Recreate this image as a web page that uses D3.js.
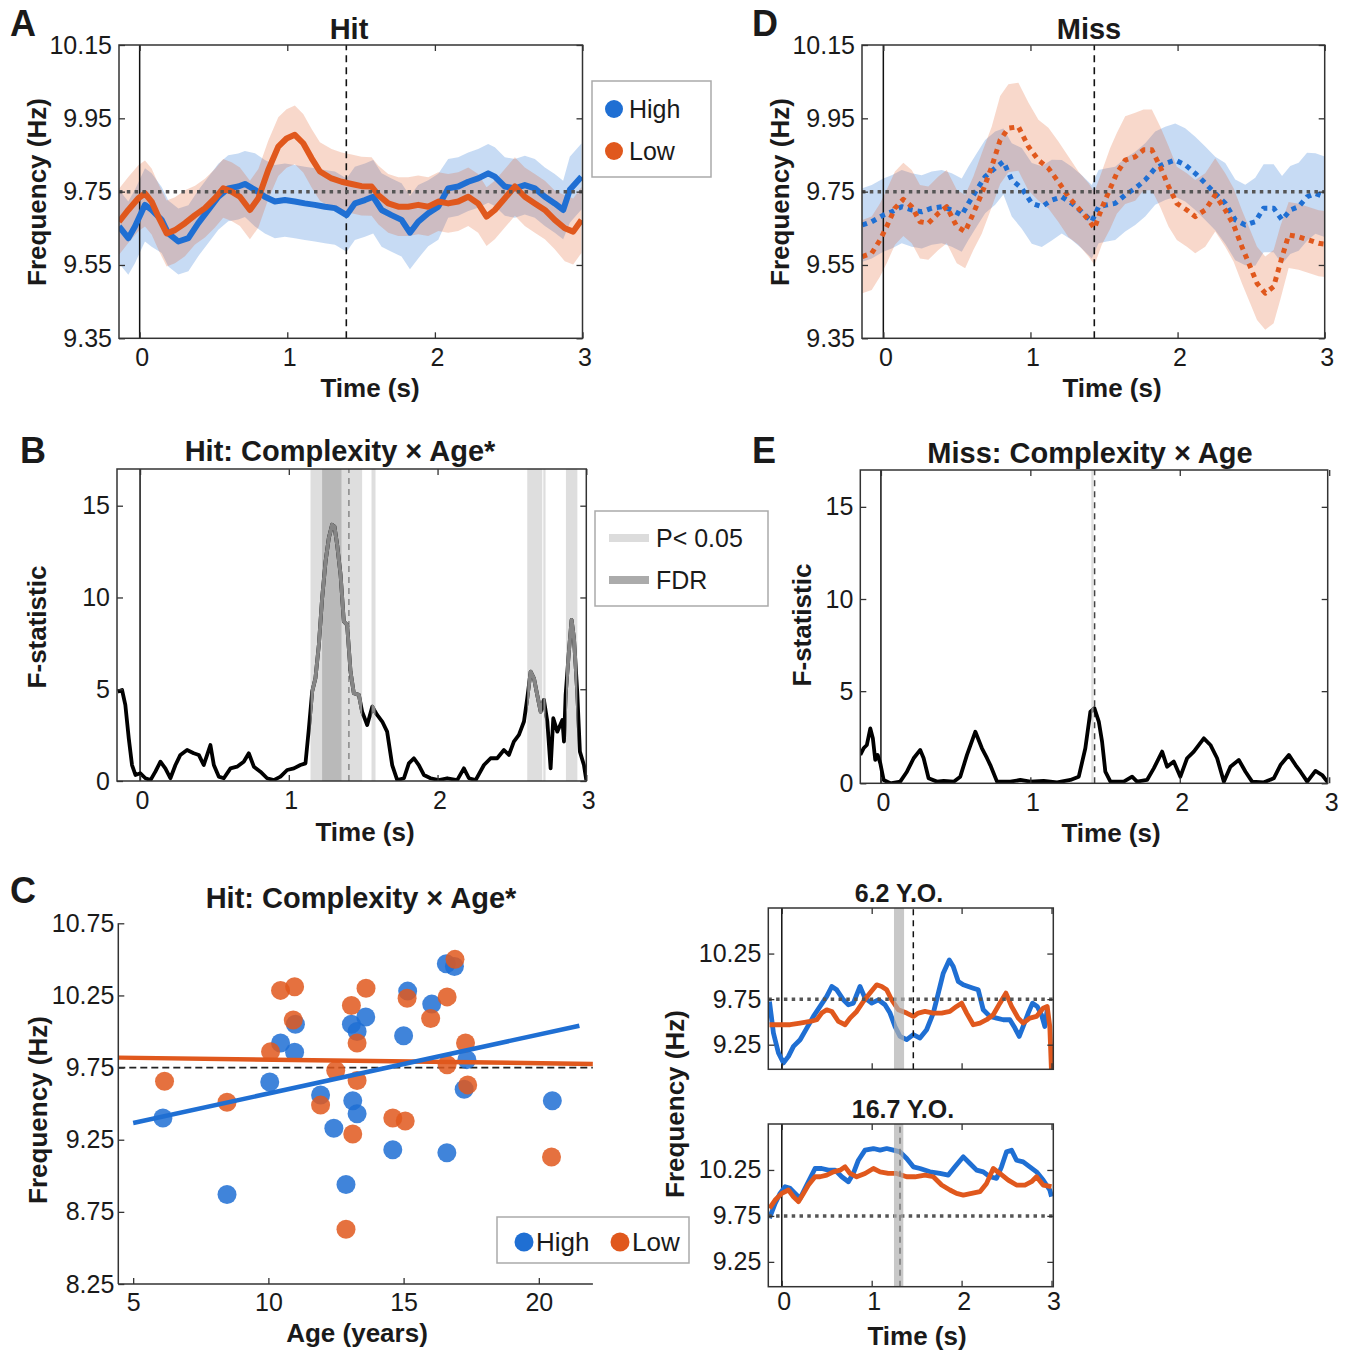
<!DOCTYPE html>
<html><head><meta charset="utf-8">
<script src="https://cdn.jsdelivr.net/npm/d3@7"></script>
<style>
body{margin:0;background:#fff;}
svg{display:block;}
text{font-family:"Liberation Sans",Arial,Helvetica,sans-serif;fill:#1a1a1a;}
</style></head><body>
<svg id="fig" width="1351" height="1351"></svg>
<script>
// ---------------- DATA ----------------
// Panel A (Hit): [time s, frequency Hz, sem]
const hitHigh = [[-0.14,9.655,0.10],[-0.077,9.623,0.10],[-0.032,9.655,0.10],[0.036,9.714,0.10],[0.081,9.700,0.10],[0.149,9.673,0.09],[0.194,9.636,0.09],[0.262,9.614,0.09],[0.330,9.623,0.09],[0.397,9.664,0.09],[0.465,9.700,0.09],[0.533,9.736,0.09],[0.600,9.759,0.09],[0.668,9.764,0.09],[0.713,9.771,0.09],[0.781,9.755,0.10],[0.848,9.736,0.10],[0.916,9.723,0.10],[0.984,9.727,0.10],[1.051,9.723,0.10],[1.119,9.718,0.10],[1.187,9.714,0.10],[1.255,9.709,0.10],[1.323,9.705,0.10],[1.402,9.686,0.10],[1.458,9.718,0.10],[1.526,9.727,0.10],[1.582,9.736,0.10],[1.639,9.700,0.10],[1.706,9.686,0.10],[1.774,9.673,0.10],[1.831,9.638,0.10],[1.887,9.668,0.10],[1.955,9.691,0.09],[2.023,9.709,0.09],[2.090,9.759,0.08],[2.158,9.764,0.08],[2.226,9.777,0.08],[2.293,9.786,0.08],[2.361,9.800,0.08],[2.406,9.791,0.08],[2.474,9.764,0.08],[2.542,9.759,0.08],[2.609,9.768,0.08],[2.677,9.759,0.08],[2.745,9.736,0.08],[2.812,9.718,0.08],[2.869,9.700,0.08],[2.914,9.755,0.09],[2.993,9.791,0.09]];
const hitLow = [[-0.14,9.668,0.09],[-0.077,9.700,0.09],[-0.009,9.732,0.09],[0.036,9.745,0.09],[0.081,9.723,0.09],[0.126,9.682,0.09],[0.183,9.636,0.09],[0.239,9.645,0.09],[0.307,9.664,0.09],[0.375,9.686,0.08],[0.442,9.705,0.08],[0.510,9.732,0.08],[0.566,9.759,0.08],[0.623,9.750,0.08],[0.679,9.736,0.08],[0.747,9.700,0.08],[0.804,9.732,0.08],[0.871,9.809,0.08],[0.939,9.873,0.08],[0.995,9.895,0.08],[1.051,9.905,0.08],[1.108,9.882,0.08],[1.165,9.841,0.08],[1.221,9.805,0.08],[1.300,9.786,0.08],[1.368,9.777,0.08],[1.436,9.771,0.08],[1.503,9.765,0.08],[1.571,9.764,0.08],[1.616,9.741,0.08],[1.684,9.718,0.08],[1.752,9.709,0.08],[1.819,9.709,0.08],[1.887,9.714,0.08],[1.955,9.709,0.08],[2.023,9.723,0.08],[2.090,9.718,0.08],[2.158,9.723,0.08],[2.226,9.736,0.08],[2.293,9.718,0.08],[2.350,9.682,0.08],[2.406,9.700,0.08],[2.474,9.732,0.08],[2.542,9.764,0.08],[2.609,9.736,0.08],[2.677,9.718,0.08],[2.745,9.700,0.08],[2.812,9.673,0.08],[2.880,9.650,0.09],[2.937,9.641,0.09],[2.993,9.673,0.09]];
// Panel D (Miss)
const missHigh = [[-0.143,9.659,0.10],[-0.079,9.668,0.10],[0.000,9.686,0.10],[0.057,9.695,0.10],[0.125,9.709,0.10],[0.193,9.700,0.10],[0.261,9.695,0.10],[0.329,9.705,0.10],[0.397,9.709,0.10],[0.465,9.700,0.10],[0.533,9.686,0.10],[0.578,9.718,0.10],[0.635,9.755,0.10],[0.692,9.791,0.10],[0.760,9.814,0.10],[0.816,9.832,0.09],[0.873,9.782,0.10],[0.941,9.759,0.11],[1.009,9.718,0.11],[1.077,9.709,0.11],[1.145,9.727,0.11],[1.213,9.736,0.10],[1.281,9.718,0.10],[1.349,9.695,0.10],[1.417,9.668,0.10],[1.463,9.709,0.10],[1.519,9.714,0.10],[1.576,9.718,0.10],[1.644,9.741,0.10],[1.712,9.759,0.10],[1.780,9.782,0.10],[1.848,9.814,0.10],[1.916,9.827,0.10],[1.984,9.836,0.10],[2.052,9.823,0.10],[2.120,9.800,0.10],[2.188,9.773,0.10],[2.256,9.745,0.10],[2.324,9.718,0.11],[2.392,9.673,0.11],[2.460,9.659,0.11],[2.528,9.668,0.12],[2.585,9.705,0.12],[2.653,9.705,0.12],[2.710,9.673,0.12],[2.766,9.700,0.12],[2.823,9.709,0.12],[2.880,9.736,0.12],[2.937,9.745,0.11],[3.000,9.736,0.11]];
const missLow = [[-0.143,9.573,0.10],[-0.079,9.582,0.10],[-0.023,9.618,0.10],[0.023,9.655,0.10],[0.079,9.705,0.10],[0.136,9.729,0.10],[0.193,9.709,0.10],[0.249,9.668,0.10],[0.306,9.664,0.10],[0.374,9.691,0.10],[0.431,9.709,0.10],[0.499,9.655,0.10],[0.556,9.641,0.10],[0.612,9.691,0.10],[0.669,9.745,0.11],[0.737,9.818,0.11],[0.794,9.891,0.12],[0.850,9.923,0.12],[0.918,9.927,0.12],[0.986,9.873,0.12],[1.054,9.836,0.11],[1.122,9.814,0.11],[1.190,9.777,0.11],[1.258,9.736,0.11],[1.326,9.705,0.10],[1.395,9.673,0.10],[1.435,9.650,0.10],[1.485,9.705,0.10],[1.542,9.759,0.11],[1.587,9.800,0.11],[1.644,9.836,0.12],[1.712,9.845,0.12],[1.769,9.864,0.11],[1.825,9.864,0.11],[1.882,9.818,0.11],[1.939,9.764,0.11],[1.995,9.718,0.10],[2.063,9.700,0.10],[2.120,9.682,0.10],[2.188,9.700,0.10],[2.256,9.741,0.10],[2.324,9.700,0.10],[2.381,9.659,0.10],[2.437,9.600,0.10],[2.494,9.545,0.10],[2.540,9.500,0.10],[2.596,9.473,0.10],[2.653,9.491,0.10],[2.698,9.555,0.10],[2.755,9.632,0.09],[2.823,9.627,0.09],[2.891,9.618,0.09],[2.959,9.609,0.09],[3.000,9.607,0.09]];
// Panel B (Hit F-statistic): [time, F]
const hitF = [[-0.150,4.87],[-0.121,4.96],[-0.099,4.15],[-0.076,2.33],[-0.054,0.87],[-0.031,0.33],[0.002,0.42],[0.036,0.15],[0.070,0.05],[0.103,0.51],[0.137,1.05],[0.170,0.69],[0.204,0.15],[0.238,0.87],[0.271,1.42],[0.316,1.69],[0.361,1.51],[0.395,1.42],[0.428,0.87],[0.451,1.42],[0.473,1.96],[0.496,0.87],[0.529,0.24],[0.563,0.15],[0.608,0.69],[0.652,0.78],[0.697,1.05],[0.731,1.51],[0.765,0.78],[0.809,0.51],[0.854,0.15],[0.899,0.05],[0.944,0.24],[0.989,0.60],[1.034,0.69],[1.078,0.87],[1.112,0.96],[1.135,2.87],[1.157,4.87],[1.179,5.60],[1.202,7.42],[1.224,9.96],[1.247,11.96],[1.269,13.24],[1.291,13.96],[1.307,13.87],[1.325,12.87],[1.348,11.24],[1.370,8.69],[1.392,8.51],[1.415,5.96],[1.437,4.78],[1.471,4.69],[1.493,3.78],[1.527,3.05],[1.561,4.05],[1.594,3.60],[1.628,3.24],[1.661,2.69],[1.695,0.87],[1.729,0.05],[1.774,0.15],[1.807,0.96],[1.841,1.24],[1.874,0.87],[1.908,0.33],[1.953,0.15],[2.009,0.05],[2.065,0.15],[2.132,0.05],[2.177,0.69],[2.211,0.15],[2.256,0.05],[2.312,0.87],[2.357,1.24],[2.401,1.24],[2.446,1.69],[2.480,1.42],[2.513,2.15],[2.547,2.51],[2.581,3.24],[2.603,4.51],[2.626,5.96],[2.648,5.60],[2.670,4.69],[2.693,3.78],[2.715,4.42],[2.738,3.24],[2.760,0.69],[2.778,3.42],[2.805,2.69],[2.839,3.33],[2.850,2.15],[2.861,4.69],[2.883,7.05],[2.901,8.78],[2.917,7.78],[2.939,4.87],[2.957,1.60],[2.984,0.87],[3.000,0.05]];
const hitSigP = [[1.146,1.493],[1.556,1.583],[2.603,2.704],[2.711,2.726],[2.863,2.940]];
const hitSigFDR = [[1.224,1.354]];
// Panel E (Miss F-statistic)
const missF = [[-0.138,1.54],[-0.116,1.90],[-0.094,2.08],[-0.071,2.98],[-0.054,2.44],[-0.038,1.27],[-0.022,1.54],[-0.004,1.08],[0.018,0.18],[0.063,0.00],[0.129,0.09],[0.174,0.63],[0.219,1.36],[0.263,1.81],[0.286,1.36],[0.319,0.27],[0.375,0.09],[0.420,0.13],[0.487,0.09],[0.531,0.36],[0.576,1.54],[0.632,2.80],[0.676,1.90],[0.710,1.36],[0.732,0.99],[0.777,0.09],[0.866,0.09],[0.933,0.18],[1.000,0.09],[1.089,0.13],[1.179,0.05],[1.268,0.18],[1.324,0.36],[1.368,1.90],[1.402,3.89],[1.429,4.07],[1.458,3.35],[1.480,2.26],[1.502,0.63],[1.536,0.09],[1.625,0.09],[1.681,0.36],[1.714,0.09],[1.781,0.18],[1.826,0.81],[1.882,1.72],[1.915,0.90],[1.960,1.18],[2.004,0.36],[2.049,1.36],[2.094,1.72],[2.161,2.44],[2.205,2.08],[2.250,1.36],[2.295,0.09],[2.339,0.90],[2.395,1.27],[2.440,0.63],[2.484,0.09],[2.563,0.05],[2.629,0.27],[2.674,0.99],[2.730,1.54],[2.775,0.99],[2.808,0.63],[2.853,0.09],[2.908,0.67],[2.953,0.45],[2.991,0.05]];
const missSigP = [[1.408,1.423]];
// Panel C scatter: [age years, frequency Hz]
const scatHigh = [[6.10,9.40],[8.47,8.87],[10.05,9.65],[10.45,9.92],[10.97,9.856],[11.00,10.05],[11.93,9.56],[12.42,9.33],[12.87,8.94],[13.07,10.05],[13.12,9.52],[13.28,9.43],[13.28,10.00],[13.60,10.10],[14.60,9.18],[15.00,9.97],[15.15,10.28],[16.04,10.19],[16.60,9.16],[16.58,10.47],[16.88,10.45],[17.34,9.805],[17.24,9.60],[20.50,9.52]];
const scatLow = [[6.16,9.655],[8.47,9.51],[10.08,9.86],[10.45,10.285],[10.97,10.31],[10.92,10.08],[11.93,9.49],[12.49,9.73],[12.87,8.63],[13.07,10.18],[13.12,9.29],[13.28,9.92],[13.28,9.66],[13.61,10.30],[14.60,9.40],[15.06,9.38],[15.13,10.23],[16.00,10.09],[16.61,10.24],[16.61,9.77],[16.90,10.50],[17.29,9.92],[17.37,9.63],[20.47,9.13]];
const fitHigh = [[5.0,9.366],[21.5,10.040]];
const fitLow = [[4.45,9.819],[22.0,9.775]];
// Panel C insets: [time, frequency]
const y6High = [[-0.137,9.724],[-0.093,9.378],[-0.037,9.159],[0.019,9.050],[0.074,9.122],[0.130,9.232],[0.204,9.305],[0.278,9.432],[0.352,9.560],[0.426,9.670],[0.500,9.780],[0.556,9.889],[0.611,9.852],[0.685,9.743],[0.741,9.688],[0.796,9.706],[0.870,9.889],[0.926,9.761],[1.000,9.706],[1.074,9.743],[1.148,9.688],[1.204,9.597],[1.259,9.450],[1.315,9.341],[1.389,9.305],[1.463,9.360],[1.537,9.323],[1.611,9.414],[1.685,9.597],[1.741,9.816],[1.796,10.035],[1.863,10.180],[1.907,10.108],[1.963,9.943],[2.019,9.907],[2.074,9.889],[2.130,9.870],[2.185,9.852],[2.241,9.633],[2.315,9.560],[2.389,9.542],[2.463,9.524],[2.537,9.524],[2.593,9.432],[2.641,9.341],[2.685,9.450],[2.741,9.597],[2.789,9.706],[2.841,9.670],[2.889,9.578],[2.926,9.450],[2.952,9.633]];
const y6Low = [[-0.137,9.469],[-0.019,9.469],[0.093,9.469],[0.204,9.487],[0.315,9.505],[0.389,9.524],[0.444,9.597],[0.500,9.633],[0.556,9.615],[0.630,9.505],[0.704,9.469],[0.759,9.542],[0.833,9.615],[0.907,9.724],[0.981,9.816],[1.056,9.907],[1.111,9.889],[1.167,9.852],[1.222,9.743],[1.296,9.633],[1.389,9.597],[1.463,9.560],[1.519,9.597],[1.593,9.615],[1.685,9.597],[1.778,9.597],[1.870,9.615],[1.944,9.670],[2.000,9.706],[2.056,9.597],[2.130,9.469],[2.204,9.487],[2.278,9.524],[2.352,9.578],[2.426,9.706],[2.493,9.816],[2.556,9.670],[2.630,9.542],[2.685,9.487],[2.759,9.542],[2.833,9.560],[2.907,9.651],[2.952,9.670],[2.981,9.450],[3.000,8.950]];
const y17High = [[-0.137,9.725],[-0.074,9.887],[-0.019,9.995],[0.037,10.068],[0.093,10.050],[0.148,9.995],[0.204,9.941],[0.259,10.050],[0.315,10.158],[0.370,10.266],[0.444,10.266],[0.519,10.248],[0.593,10.248],[0.667,10.176],[0.741,10.122],[0.796,10.212],[0.852,10.356],[0.926,10.465],[1.019,10.483],[1.093,10.465],[1.167,10.483],[1.241,10.465],[1.315,10.447],[1.389,10.375],[1.463,10.284],[1.537,10.266],[1.648,10.230],[1.759,10.212],[1.852,10.194],[1.926,10.284],[2.019,10.393],[2.093,10.320],[2.167,10.248],[2.241,10.230],[2.315,10.176],[2.389,10.158],[2.444,10.284],[2.500,10.447],[2.556,10.465],[2.611,10.356],[2.685,10.338],[2.759,10.284],[2.833,10.230],[2.907,10.140],[2.981,10.032],[3.000,9.959]];
const y17Low = [[-0.137,9.833],[-0.074,9.923],[0.000,9.995],[0.074,10.032],[0.130,9.959],[0.185,9.905],[0.241,9.995],[0.296,10.086],[0.370,10.176],[0.426,10.176],[0.500,10.194],[0.574,10.230],[0.648,10.248],[0.704,10.284],[0.759,10.212],[0.833,10.176],[0.926,10.212],[1.019,10.266],[1.093,10.230],[1.185,10.212],[1.278,10.212],[1.389,10.176],[1.481,10.176],[1.593,10.194],[1.685,10.176],[1.778,10.086],[1.870,10.032],[1.944,9.995],[2.019,9.977],[2.111,9.995],[2.204,10.014],[2.278,10.104],[2.352,10.266],[2.426,10.212],[2.519,10.140],[2.611,10.086],[2.704,10.086],[2.778,10.122],[2.833,10.176],[2.907,10.086],[3.000,10.068]];
const insetSig6 = [1.248,1.360];
const insetSig17 = [1.248,1.352];
// Ticks and labels
const timeTicks = [0,1,2,3];
const freqTicksAD = [9.35,9.55,9.75,9.95,10.15];
const fTicks = [0,5,10,15];
const ageTicks = [5,10,15,20];
const freqTicksC = [8.25,8.75,9.25,9.75,10.25,10.75];
const freqTicksInset = [9.25,9.75,10.25];
const baseline = 9.75;
const legendGroups = ["High","Low"];
const legendSig = ["P< 0.05","FDR"];

// ---------------- DRAWING ----------------
const BLUE = "#1f6fd3", ORANGE = "#e0581d";
const TICKFS = 25;
const svg = d3.select("#fig");
let clipN = 0;

function makePanel(xd, xr, yd, yr) {
  const x = d3.scaleLinear().domain(xd).range(xr);
  const y = d3.scaleLinear().domain(yd).range(yr);
  const id = "clip" + (clipN++);
  svg.append("clipPath").attr("id", id).append("rect")
    .attr("x", xr[0]).attr("y", yr[1]).attr("width", xr[1]-xr[0]).attr("height", yr[0]-yr[1]);
  const g = svg.append("g");
  const plot = g.append("g").attr("clip-path", `url(#${id})`);
  return {x, y, g, plot};
}
function styleAxis(sel, fs) {
  sel.select(".domain").remove();
  sel.selectAll(".tick line").attr("stroke", "#333").attr("stroke-width", 1.3);
  sel.selectAll(".tick text").attr("font-size", fs).attr("fill", "#1a1a1a")
    .style("font-family", '"Liberation Sans",Arial,sans-serif');
}
function boxAxes(p, xticks, yticks, yfmt, showX, fs, xpad) {
  const {x, y, g} = p;
  const [x0, x1] = x.range(), [y0, y1] = y.range();
  g.append("g").attr("transform", `translate(0,${y0})`)
    .call(d3.axisBottom(x).tickValues(xticks).tickSize(-6).tickPadding(xpad || 10)
      .tickFormat(showX ? d3.format("d") : () => ""))
    .call(s => styleAxis(s, fs)).selectAll(".tick text").attr("dx", 2);
  g.append("g").attr("transform", `translate(0,${y1})`)
    .call(d3.axisTop(x).tickValues(xticks).tickSize(-6).tickFormat(() => ""))
    .call(s => styleAxis(s, fs));
  g.append("g").attr("transform", `translate(${x0},0)`)
    .call(d3.axisLeft(y).tickValues(yticks).tickSize(-6).tickPadding(7).tickFormat(yfmt))
    .call(s => styleAxis(s, fs));
  g.append("g").attr("transform", `translate(${x1},0)`)
    .call(d3.axisRight(y).tickValues(yticks).tickSize(-6).tickFormat(() => ""))
    .call(s => styleAxis(s, fs));
  g.append("rect").attr("x", x0).attr("y", y1).attr("width", x1-x0).attr("height", y0-y1)
    .attr("fill", "none").attr("stroke", "#333").attr("stroke-width", 1.5);
}
function text(x, y, s, o = {}) {
  const t = svg.append("text").attr("x", x).attr("y", y).text(s)
    .attr("font-size", o.fs || 24).attr("font-weight", o.bold ? "bold" : "normal")
    .attr("text-anchor", o.anchor || "start");
  if (o.rot) t.attr("transform", `rotate(${o.rot},${x},${y})`);
  return t;
}
function vline(p, t, o) {
  const [y0, y1] = p.y.range();
  p.plot.append("line").attr("x1", p.x(t)).attr("x2", p.x(t)).attr("y1", y0).attr("y2", y1)
    .attr("stroke", o.color || "#111").attr("stroke-width", o.w || 1.5)
    .attr("stroke-dasharray", o.dash || null);
}
function hline(p, v, o) {
  const [x0, x1] = p.x.range();
  p.plot.append("line").attr("x1", x0).attr("x2", x1).attr("y1", p.y(v)).attr("y2", p.y(v))
    .attr("stroke", o.color || "#555").attr("stroke-width", o.w || 3.5)
    .attr("stroke-dasharray", o.dash || null);
}

// ---- time-course panels A and D ----
function timeCourse(p, high, low, dashed, dashT) {
  const band = d3.area().x(d => p.x(d[0])).y0(d => p.y(d[1]-d[2])).y1(d => p.y(d[1]+d[2]));
  const line = d3.line().x(d => p.x(d[0])).y(d => p.y(d[1]));
  p.plot.append("path").datum(high).attr("d", band).attr("fill", BLUE).attr("fill-opacity", 0.25);
  p.plot.append("path").datum(low).attr("d", band).attr("fill", ORANGE).attr("fill-opacity", 0.23);
  vline(p, 0, {w: 1.5});
  vline(p, dashT, {w: 1.6, dash: "7,5"});
  [[high, BLUE], [low, ORANGE]].forEach(([d, c]) => {
    p.plot.append("path").datum(d).attr("d", line).attr("fill", "none").attr("stroke", c)
      .attr("stroke-width", dashed ? 5 : 6).attr("stroke-linejoin", "round")
      .attr("stroke-dasharray", dashed ? "5,5" : null);
  });
  hline(p, baseline, {dash: "3.5,4.3"});
  boxAxes(p, timeTicks, freqTicksAD, d3.format(".2f"), true, TICKFS);
}
const pA = makePanel([-0.14, 3], [119, 582.5], [9.35, 10.15], [338.3, 45]);
timeCourse(pA, hitHigh, hitLow, false, 1.40);
const pD = makePanel([-0.145, 3], [862, 1324.7], [9.35, 10.15], [338.3, 45]);
timeCourse(pD, missHigh, missLow, true, 1.434);

// Legend A
svg.append("rect").attr("x", 592).attr("y", 81).attr("width", 119).attr("height", 96)
  .attr("fill", "#fff").attr("stroke", "#aaa").attr("stroke-width", 1.5);
legendGroups.forEach((k, i) => {
  svg.append("circle").attr("cx", 614).attr("cy", 109 + i*42).attr("r", 9).attr("fill", i ? ORANGE : BLUE);
  text(629, 118 + i*42, k, {fs: 25});
});

// ---- F-statistic panels B and E ----
function fPanel(p, F, sigP, sigFDR, dashT, dashColor) {
  const [y0, y1] = p.y.range();
  sigP.forEach(s => p.plot.append("rect").attr("x", p.x(s[0])).attr("width", p.x(s[1])-p.x(s[0]))
    .attr("y", y1).attr("height", y0-y1).attr("fill", "#dedede"));
  sigFDR.forEach(s => p.plot.append("rect").attr("x", p.x(s[0])).attr("width", p.x(s[1])-p.x(s[0]))
    .attr("y", y1).attr("height", y0-y1).attr("fill", "#b9b9b9"));
  vline(p, 0, {w: 1.5});
  vline(p, dashT, {w: 1.5, dash: "6,5", color: dashColor});
  const line = d3.line().x(d => p.x(d[0])).y(d => p.y(d[1]));
  p.plot.append("path").datum(F).attr("d", line).attr("fill", "none").attr("stroke", "#000")
    .attr("stroke-width", 3.8).attr("stroke-linejoin", "round");
  if (sigP.length) {
    const id = "sig" + (clipN++);
    const cp = svg.append("clipPath").attr("id", id);
    sigP.forEach(s => cp.append("rect").attr("x", p.x(s[0])).attr("width", p.x(s[1])-p.x(s[0]))
      .attr("y", y1).attr("height", y0-y1));
    p.plot.append("g").attr("clip-path", `url(#${id})`).append("path").datum(F).attr("d", line)
      .attr("fill", "none").attr("stroke", "#858585").attr("stroke-width", 3.8).attr("stroke-linejoin", "round");
  }
  boxAxes(p, timeTicks, fTicks, d3.format("d"), true, TICKFS);
}
const pB = makePanel([-0.155, 3], [117, 586.3], [0, 17], [781, 469]);
fPanel(pB, hitF, hitSigP, hitSigFDR, 1.404, "#888");
const pE = makePanel([-0.138, 2.99], [860.3, 1327.7], [0, 17], [783.3, 470]);
fPanel(pE, missF, missSigP, [], 1.43, "#444");

// Legend B
svg.append("rect").attr("x", 595).attr("y", 511).attr("width", 173).attr("height", 95)
  .attr("fill", "#fff").attr("stroke", "#aaa").attr("stroke-width", 1.5);
legendSig.forEach((k, i) => {
  svg.append("line").attr("x1", 609).attr("x2", 649).attr("y1", 538 + i*42).attr("y2", 538 + i*42)
    .attr("stroke", i ? "#ababab" : "#dcdcdc").attr("stroke-width", 8);
  text(656, 547 + i*42, k, {fs: 25});
});

// ---- Scatter panel C ----
const pC = makePanel([4.45, 22], [118.3, 592.9], [8.25, 10.75], [1284, 923.3]);
{
  const {x, y, g, plot} = pC;
  plot.append("line").attr("x1", 118.3).attr("x2", 592.9).attr("y1", y(baseline)).attr("y2", y(baseline))
    .attr("stroke", "#222").attr("stroke-width", 1.8).attr("stroke-dasharray", "7,4");
  [[scatHigh, BLUE], [scatLow, ORANGE]].forEach(([d, c]) => {
    plot.selectAll(null).data(d).enter().append("circle")
      .attr("cx", v => x(v[0])).attr("cy", v => y(v[1])).attr("r", 9.5)
      .attr("fill", c).attr("fill-opacity", 0.85);
  });
  const line = d3.line().x(d => x(d[0])).y(d => y(d[1]));
  plot.append("path").datum(fitLow).attr("d", line).attr("stroke", ORANGE).attr("stroke-width", 4.5);
  plot.append("path").datum(fitHigh).attr("d", line).attr("stroke", BLUE).attr("stroke-width", 4.5);
  g.append("g").attr("transform", "translate(0,1284)")
    .call(d3.axisBottom(x).tickValues(ageTicks).tickSize(-6).tickPadding(9))
    .call(s => styleAxis(s, TICKFS));
  g.append("g").attr("transform", "translate(118.3,0)")
    .call(d3.axisLeft(y).tickValues(freqTicksC).tickSize(-6).tickPadding(4).tickFormat(d3.format(".2f")))
    .call(s => styleAxis(s, TICKFS));
  g.append("line").attr("x1", 118.3).attr("x2", 592.9).attr("y1", 1284).attr("y2", 1284).attr("stroke", "#333").attr("stroke-width", 1.5);
  g.append("line").attr("x1", 118.3).attr("x2", 118.3).attr("y1", 923.3).attr("y2", 1284).attr("stroke", "#333").attr("stroke-width", 1.5);
}
// Legend C
svg.append("rect").attr("x", 497).attr("y", 1217).attr("width", 192).attr("height", 46)
  .attr("fill", "#fff").attr("stroke", "#aaa").attr("stroke-width", 1.5);
legendGroups.forEach((k, i) => {
  svg.append("circle").attr("cx", 524 + i*96).attr("cy", 1242).attr("r", 9.5).attr("fill", i ? ORANGE : BLUE);
  text(536 + i*96, 1251, k, {fs: 26});
});

// ---- Insets ----
function inset(yr, high, low, sig, dashT, dashColor, showX) {
  const p = makePanel([-0.15, 3.02], [768.3, 1053.3], [8.98, 10.75], yr);
  const line = d3.line().x(d => p.x(d[0])).y(d => p.y(d[1]));
  vline(p, 0, {w: 1.5});
  [[high, BLUE], [low, ORANGE]].forEach(([d, c]) => {
    p.plot.append("path").datum(d).attr("d", line).attr("fill", "none").attr("stroke", c)
      .attr("stroke-width", 4.8).attr("stroke-linejoin", "round");
  });
  hline(p, baseline, {dash: "3.5,4.3", w: 3.5});
  const [y0, y1] = p.y.range();
  p.plot.append("rect").attr("x", p.x(sig[0])).attr("width", p.x(sig[1])-p.x(sig[0]))
    .attr("y", y1).attr("height", y0-y1).attr("fill", "#b0b0b0").attr("fill-opacity", 0.7);
  vline(p, dashT, {w: 1.5, dash: "6,5", color: dashColor});
  boxAxes(p, timeTicks, freqTicksInset, d3.format(".2f"), showX, 25, 6);
  return p;
}
inset([1069.3, 908], y6High, y6Low, insetSig6, 1.463, "#111", false);
inset([1286.7, 1124], y17High, y17Low, insetSig17, 1.315, "#777", true);

// ---- Texts ----
text(10, 36, "A", {fs: 36, bold: true});
text(752, 36, "D", {fs: 36, bold: true});
text(20, 463, "B", {fs: 36, bold: true});
text(752, 463, "E", {fs: 36, bold: true});
text(10, 903, "C", {fs: 36, bold: true});
text(349, 39, "Hit", {fs: 29, bold: true, anchor: "middle"});
text(1089, 39, "Miss", {fs: 29, bold: true, anchor: "middle"});
text(340, 461, "Hit: Complexity \u00D7 Age*", {fs: 29, bold: true, anchor: "middle"});
text(1090, 463, "Miss: Complexity \u00D7 Age", {fs: 29, bold: true, anchor: "middle"});
text(361, 908, "Hit: Complexity \u00D7 Age*", {fs: 29, bold: true, anchor: "middle"});
text(899, 902, "6.2 Y.O.", {fs: 25, bold: true, anchor: "middle"});
text(903, 1118, "16.7 Y.O.", {fs: 25, bold: true, anchor: "middle"});
text(370, 397, "Time (s)", {fs: 26, bold: true, anchor: "middle"});
text(1112, 397, "Time (s)", {fs: 26, bold: true, anchor: "middle"});
text(365, 841, "Time (s)", {fs: 26, bold: true, anchor: "middle"});
text(1111, 842, "Time (s)", {fs: 26, bold: true, anchor: "middle"});
text(357, 1342, "Age (years)", {fs: 26, bold: true, anchor: "middle"});
text(917, 1345, "Time (s)", {fs: 26, bold: true, anchor: "middle"});
text(46, 192, "Frequency (Hz)", {fs: 26, bold: true, anchor: "middle", rot: -90});
text(789, 192, "Frequency (Hz)", {fs: 26, bold: true, anchor: "middle", rot: -90});
text(46, 627, "F-statistic", {fs: 26, bold: true, anchor: "middle", rot: -90});
text(811, 625, "F-statistic", {fs: 26, bold: true, anchor: "middle", rot: -90});
text(47, 1110, "Frequency (Hz)", {fs: 26, bold: true, anchor: "middle", rot: -90});
text(684, 1104, "Frequency (Hz)", {fs: 26, bold: true, anchor: "middle", rot: -90});
</script></body></html>
